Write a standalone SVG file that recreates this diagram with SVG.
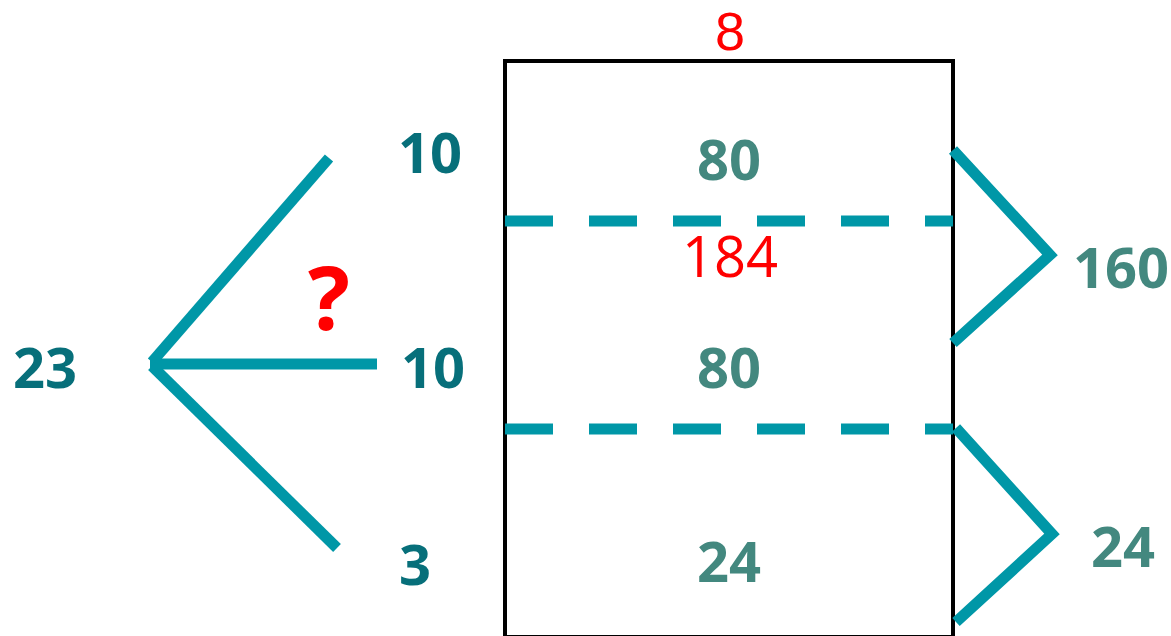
<svg xmlns="http://www.w3.org/2000/svg" width="1171" height="636" viewBox="0 0 1171 636">
<style>
.ln{stroke:#0097A7;stroke-width:11;fill:none;stroke-linecap:butt}
.dash{stroke:#0097A7;stroke-width:11;fill:none;stroke-dasharray:48 36}
.t{font-family:"Open Sans","Liberation Sans",sans-serif;font-size:56px;text-anchor:middle}
.dk{fill:#076F7A;font-weight:bold}
.gr{fill:#43887F;font-weight:bold}
.rd{fill:#FF0000}
</style>
<rect width="1171" height="636" fill="#fff"/>
<g id="box">
<rect x="505" y="61" width="448" height="576" fill="none" stroke="#000" stroke-width="4"/>
</g>
<g id="connectors">
<line class="dash" x1="505" y1="221" x2="953" y2="221"/>
<line class="dash" x1="505" y1="429" x2="953" y2="429"/>
<polyline class="ln" points="329,158 152,362"/>
<line class="ln" x1="150" y1="364" x2="377" y2="364"/>
<polyline class="ln" points="152,366 337,548"/>
<polyline class="ln" points="953,150 1050,255 953,343"/>
<polyline class="ln" points="956,428 1052,534 956,622"/>
</g>
<g id="left-labels">
<text class="t dk" x="45" y="388">23</text>
<text class="t dk" x="430" y="173">10</text>
<text class="t dk" x="433" y="388">10</text>
<text class="t dk" x="415" y="585">3</text>
<text class="t rd" x="329" y="330" style="font-weight:bold;font-size:88px">?</text>
</g>
<g id="box-labels">
<text class="t rd" x="730" y="50" style="font-family:'Liberation Sans',sans-serif;font-size:54px">8</text>
<text class="t gr" x="729" y="180">80</text>
<text class="t rd" x="730" y="277">184</text>
<text class="t gr" x="729" y="388">80</text>
<text class="t gr" x="729" y="582">24</text>
</g>
<g id="right-labels">
<text class="t gr" x="1121" y="288">160</text>
<text class="t gr" x="1123" y="567">24</text>
</g>
</svg>
